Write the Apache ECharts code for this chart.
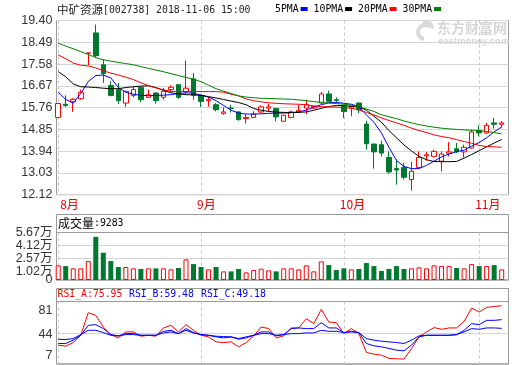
<!DOCTYPE html>
<html><head><meta charset="utf-8">
<script src="https://cdn.jsdelivr.net/npm/echarts@6/dist/echarts.min.js"></script>
<style>html,body{margin:0;padding:0;background:#fff}#c{width:520px;height:365px}</style>
</head><body><div id="c"></div>
<script>
// ---------------- data ----------------
const categories = [
'2018-08-07','2018-08-08','2018-08-09','2018-08-10','2018-08-13','2018-08-14','2018-08-15','2018-08-16','2018-08-17','2018-08-20',
'2018-08-21','2018-08-22','2018-08-23','2018-08-24','2018-08-27','2018-08-28','2018-08-29','2018-08-30','2018-08-31',
'2018-09-03','2018-09-04','2018-09-05','2018-09-06','2018-09-07','2018-09-10','2018-09-11','2018-09-12','2018-09-13','2018-09-14',
'2018-09-17','2018-09-18','2018-09-19','2018-09-20','2018-09-21','2018-09-25','2018-09-26','2018-09-27','2018-09-28',
'2018-10-08','2018-10-09','2018-10-10','2018-10-11','2018-10-12','2018-10-15','2018-10-16','2018-10-17','2018-10-18','2018-10-19',
'2018-10-22','2018-10-23','2018-10-24','2018-10-25','2018-10-26','2018-10-29','2018-10-30','2018-10-31',
'2018-11-01','2018-11-02','2018-11-05','2018-11-06'];

const kOpen  = [15.35,15.90,16.00,16.13,18.04,18.88,17.55,16.68,16.51,15.95,16.27,16.61,16.19,16.37,16.19,16.51,16.72,16.43,16.96,16.27,
                16.05,15.88,15.52,15.74,15.58,15.30,15.35,15.58,15.74,15.72,15.19,15.35,15.58,15.74,15.74,15.95,16.33,16.09,15.81,15.74,
                15.95,15.07,14.24,14.21,13.68,13.21,13.26,12.75,13.26,13.74,13.72,13.52,13.85,14.04,13.91,14.07,14.80,14.70,15.12,15.06];
const kClose = [15.93,15.85,16.11,16.40,18.04,17.93,17.18,16.27,16.05,16.44,16.51,16.09,16.30,16.05,16.44,16.61,16.19,16.57,16.28,16.02,
                16.09,15.67,15.58,15.72,15.26,15.35,15.49,15.79,15.79,15.37,15.44,15.58,15.65,15.88,15.81,16.33,16.02,16.06,15.60,15.81,
                15.67,14.25,13.91,13.86,13.07,13.15,12.85,13.10,13.68,13.79,13.93,13.82,13.91,13.91,14.10,14.74,14.70,15.02,15.06,15.12];
const kLow   = [15.33,15.79,15.58,16.09,17.53,17.83,16.79,16.23,15.91,15.79,16.19,15.99,16.16,15.92,16.09,16.44,16.13,16.29,16.09,15.79,
                15.80,15.60,15.46,15.56,15.21,15.09,15.32,15.53,15.60,15.19,15.16,15.32,15.53,15.49,15.70,15.91,15.99,15.99,15.32,15.40,
                15.53,14.00,13.21,13.72,13.00,12.54,12.75,12.29,13.24,13.54,13.68,13.10,13.72,13.86,13.68,14.04,14.56,14.66,14.88,14.93];
const kHigh  = [15.95,16.27,16.15,16.51,18.04,19.23,17.76,16.86,16.79,16.46,16.64,16.63,16.51,16.40,16.58,16.69,16.75,17.72,17.21,16.30,
                16.20,15.95,15.77,15.88,15.60,15.49,15.61,15.85,15.91,15.74,15.46,15.63,15.88,16.09,15.85,16.41,16.47,16.19,15.88,15.83,
                15.98,15.21,14.24,14.38,13.93,13.59,13.45,13.49,13.93,13.90,14.00,13.93,14.32,14.28,14.21,14.84,15.02,15.12,15.33,15.19];

const ma5  = [16.41,16.10,15.95,16.35,16.85,17.10,17.12,17.00,16.60,16.40,16.32,16.27,16.26,16.27,16.28,16.30,16.35,16.38,16.36,16.28,
              16.20,16.05,15.85,15.65,15.53,15.49,15.49,15.50,15.52,15.53,15.53,15.55,15.58,15.66,15.78,15.88,15.96,15.98,15.94,15.90,
              15.80,15.45,15.15,14.70,14.10,13.55,13.30,13.21,13.21,13.35,13.52,13.70,13.82,13.92,13.98,14.15,14.30,14.50,14.75,14.95];
const ma10 = [17.26,17.05,16.75,16.63,16.62,16.60,16.57,16.55,16.55,16.60,16.63,16.66,16.67,16.60,16.48,16.38,16.33,16.30,16.29,16.27,
              16.22,16.16,16.10,16.03,15.97,15.88,15.72,15.65,15.60,15.57,15.56,15.55,15.56,15.58,15.65,15.73,15.80,15.85,15.84,15.82,
              15.80,15.65,15.40,15.15,14.80,14.50,14.20,13.95,13.72,13.58,13.51,13.50,13.50,13.51,13.65,13.80,13.96,14.12,14.28,14.43];
const ma20 = [17.96,17.80,17.62,17.53,17.50,17.42,17.30,17.20,17.12,17.03,16.93,16.80,16.68,16.58,16.50,16.44,16.43,16.43,16.43,16.43,
              16.43,16.43,16.40,16.32,16.25,16.12,16.05,16.00,15.96,15.94,15.92,15.91,15.90,15.88,15.83,15.80,15.79,15.78,15.76,15.74,
              15.66,15.56,15.45,15.33,15.22,15.12,15.02,14.90,14.80,14.72,14.62,14.55,14.50,14.42,14.34,14.27,14.18,14.13,14.12,14.10];
const ma30 = [18.45,18.33,18.22,18.10,17.98,17.85,17.76,17.70,17.65,17.60,17.55,17.47,17.40,17.33,17.26,17.18,17.10,17.02,16.95,16.84,
              16.70,16.55,16.45,16.35,16.25,16.20,16.17,16.15,16.14,16.13,16.12,16.11,16.08,16.05,16.01,15.98,15.95,15.93,15.90,15.86,
              15.80,15.70,15.60,15.46,15.38,15.30,15.20,15.12,15.05,14.99,14.94,14.90,14.87,14.85,14.83,14.81,14.80,14.76,14.72,14.66];

// volume in 万 (10k shares)
const volume = [1.75,1.66,1.39,1.39,2.26,5.15,3.25,2.26,1.55,1.55,1.39,1.31,1.39,1.39,1.39,1.27,1.43,2.46,1.90,1.55,
                1.27,1.55,1.03,1.03,1.31,0.91,1.19,1.35,1.15,1.03,1.39,1.39,1.27,1.75,1.03,2.22,1.78,1.19,1.39,1.27,
                1.31,2.02,1.66,1.07,1.31,1.66,1.31,1.39,1.51,1.39,1.75,1.66,1.66,1.43,1.39,1.90,1.66,1.66,1.78,1.27];

const rsiA = [29.3,28.1,32.4,41.0,67.7,64.5,50.8,41.8,37.9,45.0,45.0,39.9,41.0,39.9,49.7,52.8,45.0,53.6,46.9,41.0,
              39.1,33.2,32.4,33.2,27.3,32.4,40.3,50.8,48.9,37.9,40.3,49.7,49.7,60.6,54.8,71.6,56.7,55.9,43.0,48.9,
              43.0,20.7,18.7,17.5,13.6,13.2,12.8,25.4,39.1,45.0,50.1,48.1,49.7,49.7,57.5,73.2,68.5,74.0,75.1,75.95];
const rsiB = [31.3,31.3,35.2,41.0,52.8,53.6,48.9,41.8,40.3,43.0,43.0,41.0,41.0,41.0,45.7,46.9,43.0,48.9,44.2,41.8,
              41.0,39.1,37.9,39.1,36.3,37.9,41.0,45.0,45.0,40.3,41.8,48.9,49.7,48.9,48.9,55.9,49.7,49.7,44.2,45.7,
              44.2,31.3,28.5,27.3,25.4,23.4,22.6,29.3,39.1,41.0,41.0,41.0,41.0,41.8,46.9,54.8,53.6,58.7,58.7,59.48];
const rsiC = [36.3,36.0,37.1,41.8,46.9,46.9,44.2,41.0,40.3,41.8,41.8,41.0,41.0,41.0,43.8,45.0,43.0,46.9,43.8,41.8,
              41.0,39.9,39.5,39.1,37.1,39.1,41.0,43.0,43.0,41.0,41.8,43.0,43.0,43.8,43.8,46.9,45.7,45.7,44.2,45.0,
              44.2,37.1,35.2,34.0,33.2,32.4,31.3,35.2,40.3,41.0,41.0,41.0,41.0,41.8,45.0,48.9,48.1,49.7,49.7,49.18];

const priceTicks = [12.12,13.03,13.94,14.85,15.76,16.67,17.58,18.49,19.40];
const volTicks   = [1.02,2.57,4.12,5.67];
const volZeroTick = [0];
const volGridLines = [2.57,4.12];
const rsiTicks   = [7,44,81];
const rsiGridLines = [44];

const maNames  = ['5PMA','10PMA','20PMA','30PMA'];
const maColors = ['#0000ff','#000000','#ff0000','#008000'];

const titleName = '中矿资源';
const titleInfo = '[002738] 2018-11-06 15:00';
const volLabel = '成交量';
const volLast = '9283';
const rsiHeader = [['RSI_A','75.95'],['RSI_B','59.48'],['RSI_C','49.18']];

// ---------------- chart ----------------
const UP = '#ff0000', DOWN = '#00782f';
const GRID_LINE = '#d4d4d4', BORDER = '#9a9a9a';
const FL = 56.5, FR = 11.5;     // frame left/right
const DL = 58.2, DR = 18.3;     // data area left/right (first/last candle centers)

function isMonthStart(i) {
  return i === 0 || categories[i].slice(5,7) !== categories[i-1].slice(5,7);
}
function isUp(i) {
  if (kClose[i] > kOpen[i]) return true;
  if (kClose[i] < kOpen[i]) return false;
  return i === 0 || kClose[i] >= kClose[i-1];
}

const gridBase = {show:true, borderColor:BORDER, borderWidth:1, backgroundColor:'transparent', containLabel:false, outerBoundsMode:'none'};
const grids = [
  Object.assign({}, gridBase, {left:FL, right:FR, top:20.5, height:174.2}),            // 0 main frame
  Object.assign({}, gridBase, {show:false, left:DL, right:DR, top:20.5, height:174.2}), // 1 main data
  Object.assign({}, gridBase, {left:FL, right:FR, top:214.5, height:65.5}),            // 2 vol box
  Object.assign({}, gridBase, {left:FL, right:FR, top:232.5, height:47.5}),            // 3 vol frame
  Object.assign({}, gridBase, {show:false, left:DL, right:DR, top:232.5, height:47.5}),// 4 vol data
  Object.assign({}, gridBase, {left:FL, right:FR, top:288.5, height:75.5}),            // 5 rsi box
  Object.assign({}, gridBase, {left:FL, right:FR, top:301.5, height:62.5}),            // 6 rsi frame
  Object.assign({}, gridBase, {show:false, left:DL, right:DR, top:301.5, height:62.5}) // 7 rsi data
];

const hiddenValueX = g => ({gridIndex:g, type:'value', min:0, max:1, show:false});
const hiddenValueY = (g,min,max) => ({gridIndex:g, type:'value', min:min, max:max, show:false});
const monthSplit = {show:true, interval:(i)=>isMonthStart(i), lineStyle:{color:'#c8c8c8', type:[3,3], width:1}};
const dataX = (g, withLabels) => ({
  gridIndex:g, type:'category', data:categories, boundaryGap:false,
  axisLine:{show:false}, axisTick:{show:false},
  axisLabel: withLabels ? {
    show:true, interval:(i)=>isMonthStart(i),
    formatter:(v, i)=> (i === 0 ? '{f|' : '{o|') + (+v.slice(5,7)) + '月}',
    rich:{f:{padding:[0,0,0,6], color:'#e00000', fontSize:12, fontFamily:'Noto Sans CJK SC'},
          o:{color:'#e00000', fontSize:12, fontFamily:'Noto Sans CJK SC'}},
    color:'#e00000', fontSize:12, fontFamily:'Noto Sans CJK SC', margin:4, align:'left', padding:[0,0,0,-4]
  } : {show:false},
  splitLine: monthSplit
});
const axisFont = {color:'#333', fontSize:12.5, fontFamily:'Liberation Sans, Noto Sans CJK SC', margin:4};

const xAxes = [hiddenValueX(0), dataX(1,true), hiddenValueX(2), hiddenValueX(3), dataX(4,false), hiddenValueX(5), hiddenValueX(6), dataX(7,false)];
const yAxes = [
  {gridIndex:0, type:'value', min:priceTicks[0], max:priceTicks[priceTicks.length-1],
   axisLine:{show:false}, axisTick:{show:false, customValues:priceTicks},
   axisLabel:Object.assign({customValues:priceTicks, formatter:(v)=>v.toFixed(2), showMinLabel:true, showMaxLabel:true}, axisFont),
   splitLine:{show:true, lineStyle:{color:GRID_LINE, width:1}}},
  hiddenValueY(1, priceTicks[0], priceTicks[priceTicks.length-1]),
  hiddenValueY(2, 0, 1),
  {gridIndex:3, type:'value', min:volZeroTick[0], max:volTicks[volTicks.length-1], position:'left', offset:0,
   axisLine:{show:false}, axisTick:{show:false, customValues:volGridLines},
   axisLabel:Object.assign({customValues:volTicks, formatter:(v)=> v.toFixed(2)+'万', showMinLabel:true, showMaxLabel:true}, axisFont),
   splitLine:{show:true, lineStyle:{color:GRID_LINE, width:1}}},
  hiddenValueY(4, volZeroTick[0], volTicks[volTicks.length-1]),
  hiddenValueY(5, 0, 1),
  {gridIndex:6, type:'value', min:rsiTicks[0], max:rsiTicks[rsiTicks.length-1],
   axisLine:{show:false}, axisTick:{show:false, customValues:rsiGridLines},
   axisLabel:Object.assign({customValues:rsiTicks, showMinLabel:true, showMaxLabel:true,
     formatter:(v)=>{
       const idx = rsiTicks.indexOf(v);
       if (idx === 0) return '{b|' + v + '}';
       if (idx === rsiTicks.length-1) return '{t|' + v + '}';
       return '{m|' + v + '}';
     },
     rich:{
       t:{fontSize:12.5, fontFamily:'Liberation Sans', color:'#333', padding:[18,0,0,0]},
       m:{fontSize:12.5, fontFamily:'Liberation Sans', color:'#333', padding:[4,0,0,0]},
       b:{fontSize:12.5, fontFamily:'Liberation Sans', color:'#333', padding:[0,0,16,0]}
     }}, axisFont),
   splitLine:{show:true, lineStyle:{color:GRID_LINE, width:1}}},
  hiddenValueY(7, rsiTicks[0], rsiTicks[rsiTicks.length-1]),
  // separate axis only for the "0" volume label (so it does not hide its neighbour)
  {gridIndex:3, type:'value', min:volZeroTick[0], max:volTicks[volTicks.length-1], position:'left', offset:0,
   axisLine:{show:false}, axisTick:{show:false}, splitLine:{show:false},
   axisLabel:Object.assign({customValues:volZeroTick, formatter:(v)=> String(v), showMinLabel:true}, axisFont)}
];

const series = [];
series.push({
  type:'candlestick', name:'K', xAxisIndex:1, yAxisIndex:1, barWidth:5,
  data: categories.map((_,i)=>[kOpen[i], kClose[i], kLow[i], kHigh[i]]),
  itemStyle:{color:'#ffffff', color0:DOWN, borderColor:UP, borderColor0:DOWN, borderColorDoji:UP, borderWidth:1},
  z:2
});
[ma5, ma10, ma20, ma30].forEach((arr, k) => {
  series.push({type:'line', name:maNames[k], xAxisIndex:1, yAxisIndex:1, data:arr, symbol:'none',
    color:maColors[k], lineStyle:{color:maColors[k], width:1}, z:3});
});
series.push({
  type:'bar', name:'VOL', xAxisIndex:4, yAxisIndex:4, barWidth:5,
  data: volume.map((v,i)=> isUp(i)
     ? {value:v, itemStyle:{color:'#ffffff', borderColor:UP, borderWidth:1}}
     : {value:v, itemStyle:{color:DOWN, borderColor:DOWN, borderWidth:0}})
});
[[rsiA,'#ff0000','RSI_A'],[rsiB,'#0000ff','RSI_B'],[rsiC,'#0000ff','RSI_C']].forEach(([arr,c,n])=>{
  series.push({type:'line', name:n, xAxisIndex:7, yAxisIndex:7, data:arr, symbol:'none',
    lineStyle:{color:c, width:1}, itemStyle:{color:c}, z:3});
});

const mono = 'DejaVu Sans Mono';
const graphics = [
  // watermark logo (stylised swoosh) and text
  {type:'arc', z:0, silent:true, shape:{cx:425, cy:32, r:7, startAngle:Math.PI*0.55, endAngle:Math.PI*1.75},
   style:{stroke:'#d9d9d9', lineWidth:4, fill:null}},
  {type:'arc', z:0, silent:true, shape:{cx:427, cy:27, r:5, startAngle:Math.PI*1.2, endAngle:Math.PI*2.1},
   style:{stroke:'#d9d9d9', lineWidth:3, fill:null}},
  {type:'text', left:437, top:21, z:0, silent:true,
   style:{text:'东方财富网', font:'bold 14px "Noto Sans CJK SC"', fill:'#d6d6d6'}},
  {type:'text', left:438, top:36, z:0, silent:true,
   style:{text:'eastmoney.com', font:'bold 9.5px "Liberation Sans"', fill:'#d6d6d6'}},
  {type:'text', x:57, y:10, z:10,
   style:{text:'{c|'+titleName+'}{a|'+titleInfo+'}', verticalAlign:'middle',
     rich:{c:{fontFamily:'Noto Sans CJK SC', fontSize:11.5, fill:'#222'}, a:{fontFamily:mono, fontSize:9.8, fill:'#222'}}}},
  {type:'text', x:58, y:223.5, z:10,
   style:{text:'{c|'+volLabel+'}{a|:'+volLast+'}', verticalAlign:'middle',
     rich:{c:{fontFamily:'Noto Sans CJK SC', fontSize:12, fill:'#000'}, a:{fontFamily:mono, fontSize:9.8, fill:'#000'}}}}
];
const rsiX = [57.5, 129, 201];
const rsiCol = ['#ff0000','#0000ff','#0000ff'];
rsiHeader.forEach((h,k)=>{
  graphics.push({type:'text', x:rsiX[k], y:294.5, z:10,
    style:{text:h[0]+':'+h[1], fontFamily:mono, fontSize:9.8, fill:rsiCol[k], verticalAlign:'middle'}});
});

const chart = echarts.init(document.getElementById('c'), null, {renderer:'canvas'});
chart.setOption({
  animation:false,
  backgroundColor:'#ffffff',
  grid: grids,
  xAxis: xAxes,
  yAxis: yAxes,
  legend:{data:maNames, left:275, top:4, icon:'rect', itemWidth:7, itemHeight:4, itemGap:6, align:'right',
    selectedMode:false, padding:0, textStyle:{fontFamily:mono, fontSize:9.8, color:'#000', padding:[0,-3,0,0]}},
  series: series,
  graphic: graphics
});
</script></body></html>
